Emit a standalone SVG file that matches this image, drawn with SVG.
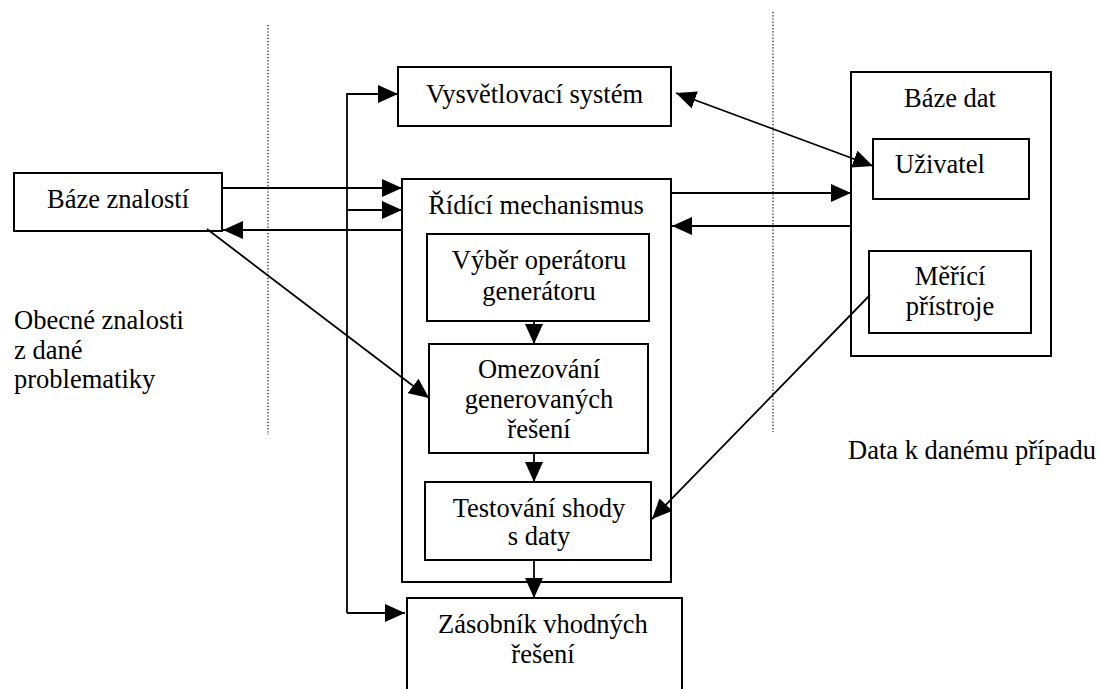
<svg xmlns="http://www.w3.org/2000/svg" width="1101" height="689" viewBox="0 0 1101 689">
<style>
.box{fill:#fff;stroke:#000;stroke-width:2}
.c{text-anchor:middle}
.ln{fill:none;stroke:#000;stroke-width:1.8}
.dot{fill:none;stroke:#000;stroke-width:1.2;stroke-dasharray:1.2 2}
</style>
<defs>
<marker id="ah" markerUnits="userSpaceOnUse" markerWidth="20" markerHeight="18" refX="20" refY="9" orient="auto-start-reverse" viewBox="0 0 20 18">
<path d="M0,0 L20,9 L0,18 z" fill="#000"/>
</marker>
</defs>
<rect width="1101" height="689" fill="#fff"/>
<g id="dividers">
<line class="dot" x1="268" y1="25" x2="268" y2="435"/>
<line class="dot" x1="773" y1="12" x2="773" y2="432"/>
</g>
<g font-family="'Liberation Serif', 'Times New Roman', serif" font-size="26.5" fill="#000">
<g id="labels">
<text x="14" y="329">Obecné znalosti</text>
<text x="14" y="359">z dané</text>
<text x="14" y="388">problematiky</text>
<text x="848" y="459">Data k danému případu</text>
</g>
<g id="baze-znalosti">
<rect class="box" x="14" y="173" width="208" height="58"/>
<text class="c" x="118" y="208">Báze znalostí</text>
</g>
<g id="vysvetlovaci">
<rect class="box" x="398" y="67" width="273" height="59"/>
<text class="c" x="534.5" y="103">Vysvětlovací systém</text>
</g>
<g id="ridici">
<rect class="box" x="402" y="179" width="269" height="403"/>
<text class="c" x="536" y="214">Řídící mechanismus</text>
</g>
<g id="vyber">
<rect class="box" x="427" y="234" width="222" height="87"/>
<text class="c" x="539" y="269">Výběr operátoru</text>
<text class="c" x="539" y="300">generátoru</text>
</g>
<g id="omezovani">
<rect class="box" x="429" y="344" width="219" height="109"/>
<text class="c" x="539" y="378">Omezování</text>
<text class="c" x="539" y="408">generovaných</text>
<text class="c" x="539" y="438">řešení</text>
</g>
<g id="testovani">
<rect class="box" x="425" y="482" width="226" height="78"/>
<text class="c" x="539" y="517">Testování shody</text>
<text class="c" x="539" y="545">s daty</text>
</g>
<g id="zasobnik">
<path class="box" d="M407,690 L407,598 L682,598 L682,690"/>
<text class="c" x="543" y="633">Zásobník vhodných</text>
<text class="c" x="543" y="663">řešení</text>
</g>
<g id="baze-dat">
<rect class="box" x="851" y="72" width="200" height="284"/>
<text class="c" x="950" y="107">Báze dat</text>
</g>
<g id="uzivatel">
<rect class="box" x="873" y="139" width="156" height="60"/>
<text x="895" y="173">Uživatel</text>
</g>
<g id="merici">
<rect class="box" x="869" y="251" width="162" height="82"/>
<text class="c" x="950" y="285">Měřící</text>
<text class="c" x="950" y="315">přístroje</text>
</g>
</g>
<g id="connectors">
<path class="ln" d="M347,613 L347,94 L398,94" marker-end="url(#ah)"/>
<path class="ln" d="M347,613 L405,613" marker-end="url(#ah)"/>
<path class="ln" d="M222,188 L402,188" marker-end="url(#ah)"/>
<path class="ln" d="M347,210 L402,210" marker-end="url(#ah)"/>
<path class="ln" d="M402,230 L223,230" marker-end="url(#ah)"/>
<path class="ln" d="M207,229 L429,398" marker-end="url(#ah)"/>
<path class="ln" d="M676,93 L873,166" marker-start="url(#ah)" marker-end="url(#ah)"/>
<path class="ln" d="M671,193 L851,193" marker-end="url(#ah)"/>
<path class="ln" d="M851,226 L672,226" marker-end="url(#ah)"/>
<path class="ln" d="M870,295 L652,519" marker-end="url(#ah)"/>
<path class="ln" d="M534,321 L534,344" marker-end="url(#ah)"/>
<path class="ln" d="M534,453 L534,482" marker-end="url(#ah)"/>
<path class="ln" d="M534,560 L534,598" marker-end="url(#ah)"/>
</g>
</svg>
